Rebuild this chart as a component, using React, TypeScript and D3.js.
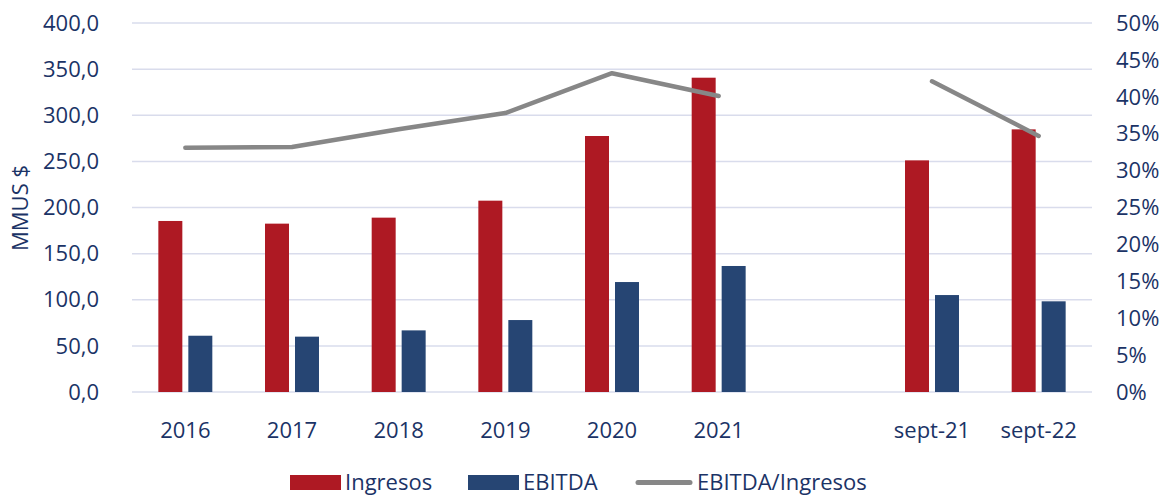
import React from 'react';
import * as d3 from 'd3';

// Data
const categories = ['2016', '2017', '2018', '2019', '2020', '2021', '', 'sept-21', 'sept-22'];
const ingresos: (number | null)[] = [185.4, 182.5, 189.0, 207.4, 277.5, 340.7, null, 251.1, 284.7];
const ebitda: (number | null)[] = [61.0, 60.0, 66.8, 78.0, 119.2, 136.6, null, 105.1, 98.3];
const margen: (number | null)[] = [33.1, 33.2, 35.6, 37.8, 43.2, 40.1, null, 42.1, 34.7];
const leftTicks = [0, 50, 100, 150, 200, 250, 300, 350, 400];
const rightTicks = [0, 5, 10, 15, 20, 25, 30, 35, 40, 45, 50];

const W = 1167;
const H = 498;
const margin = { top: 23, right: 75, bottom: 106, left: 132 };
const textColor = '#1B3366';
const red = '#AE1923';
const blue = '#264573';
const gray = '#878787';
const font = '"Open Sans", sans-serif';
const fs = 22;

const App = () => {
  const x0 = d3.scaleBand<string>()
    .domain(categories)
    .range([margin.left, W - margin.right])
    .padding(0);

  const groupW = x0.bandwidth() * 0.506;
  const x1 = d3.scaleBand<string>()
    .domain(['Ingresos', 'EBITDA'])
    .range([0, groupW])
    .paddingInner(0.2);

  const yL = d3.scaleLinear().domain([0, 400]).range([H - margin.bottom, margin.top]);
  const yR = d3.scaleLinear().domain([0, 50]).range([H - margin.bottom, margin.top]);

  const fmt = (v: number) => v.toFixed(1).replace('.', ',');
  const center = (c: string) => (x0(c) as number) + x0.bandwidth() / 2;
  const groupStart = (c: string) => center(c) - groupW / 2;

  const line = d3.line<number | null>()
    .defined(d => d !== null)
    .x((_, i) => center(categories[i]))
    .y(d => yR(d as number));

  return (
    <svg width={W} height={H} style={{ position: 'absolute', left: 0, top: 0, background: '#fff' }}>
      {/* gridlines */}
      {leftTicks.map(t => (
        <line key={t} x1={margin.left} x2={W - margin.right} y1={yL(t)} y2={yL(t)}
          stroke="#D9DCEC" strokeWidth={1.5} />
      ))}

      {/* left axis labels */}
      {leftTicks.map(t => (
        <text key={t} x={99} y={yL(t)} dy="0.35em" textAnchor="end"
          fontFamily={font} fontSize={fs} fill={textColor}>{fmt(t)}</text>
      ))}

      {/* right axis labels */}
      {rightTicks.map(t => (
        <text key={t} x={1116} y={yR(t)} dy="0.35em" textAnchor="start"
          fontFamily={font} fontSize={fs} fill={textColor}>{t}%</text>
      ))}

      {/* y axis title */}
      <text transform={`translate(28,208) rotate(-90)`} textAnchor="middle"
        fontFamily={font} fontSize={fs} fill={textColor}>MMUS $</text>

      {/* bars */}
      {categories.map((c, i) => (
        <g key={c + i} transform={`translate(${groupStart(c)},0)`}>
          {ingresos[i] !== null && (
            <rect x={x1('Ingresos')} y={yL(ingresos[i] as number)} width={x1.bandwidth()}
              height={yL(0) - yL(ingresos[i] as number)} fill={red} />
          )}
          {ebitda[i] !== null && (
            <rect x={x1('EBITDA')} y={yL(ebitda[i] as number)} width={x1.bandwidth()}
              height={yL(0) - yL(ebitda[i] as number)} fill={blue} />
          )}
        </g>
      ))}

      {/* ratio line */}
      <path d={line(margen) || ''} fill="none" stroke={gray} strokeWidth={4.5}
        strokeLinecap="round" strokeLinejoin="round" />

      {/* x labels */}
      {categories.map((c, i) => (
        <text key={c + i} x={center(c)} y={438} textAnchor="middle"
          fontFamily={font} fontSize={fs} fill={textColor}>{c}</text>
      ))}

      {/* legend */}
      <g fontFamily={font} fontSize={fs} fill={textColor}>
        <rect x={290} y={475} width={51} height={15} fill={red} />
        <text x={345} y={490}>Ingresos</text>
        <rect x={468} y={475} width={51} height={15} fill={blue} />
        <text x={523} y={490}>EBITDA</text>
        <line x1={638} x2={690} y1={482.5} y2={482.5} stroke={gray} strokeWidth={5} strokeLinecap="round" />
        <text x={697} y={490}>EBITDA/Ingresos</text>
      </g>
    </svg>
  );
};

export default App;
